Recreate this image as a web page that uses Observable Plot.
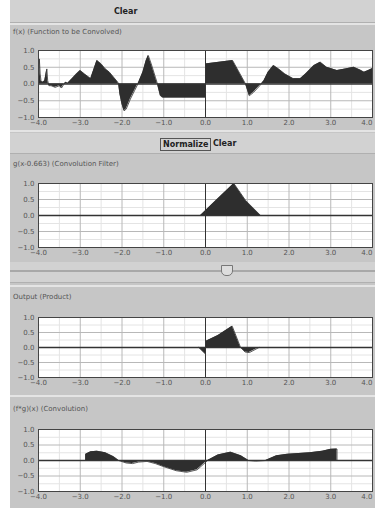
<!DOCTYPE html>
<html><head><meta charset="utf-8">
<script src="https://cdn.jsdelivr.net/npm/d3@7"></script>
<script src="https://cdn.jsdelivr.net/npm/@observablehq/plot@0.6"></script>
<style>
body{margin:0;background:#fff;font-family:"DejaVu Sans",sans-serif;}
#root{position:relative;width:375px;height:512px;overflow:hidden;background:#fff;}
.gray{position:absolute;left:10px;top:0;width:365px;height:508px;background:#c6c6c6;}
.bar{position:absolute;left:10px;width:365px;background:#d2d2d2;border-bottom:1px solid #b0b0b0;}
.btn{position:absolute;font-size:8px;font-weight:bold;color:#222;padding:1px 2px;}
.title{position:absolute;left:13px;font-size:7px;color:#555;white-space:nowrap;}
.plot{position:absolute;left:10px;}
.plot svg{overflow:visible;}
.sep{position:absolute;left:10px;width:365px;height:2px;background:#e4e4e4;}
</style></head>
<body><div id="root">
<div class="gray"></div>
<div class="bar" style="top:0;height:22px;"></div>
<div class="btn" style="left:112px;top:6px;">Clear</div>
<div class="sep" style="top:23px;"></div>
<div class="title" style="top:28px;">f(x) (Function to be Convolved)</div>
<div class="plot" id="p1" style="top:40px;"></div>
<div class="sep" style="top:130px;"></div>
<div class="bar" style="top:133px;height:20px;"></div>
<div class="btn" style="left:160px;top:138px;border:1px solid #555;">Normalize</div>
<div class="btn" style="left:211px;top:138px;">Clear</div>
<div class="title" style="top:160px;">g(x-0.663) (Convolution Filter)</div>
<div class="plot" id="p2" style="top:173px;"></div>
<div class="bar" style="top:262px;height:20px;"></div>
<div style="position:absolute;left:10px;top:270px;width:365px;height:2px;background:#a8a8a8;"></div>
<div style="position:absolute;left:221px;top:265px;width:10px;height:9px;background:#ddd;border:1px solid #777;border-radius:0 0 5px 5px;"></div>
<div class="sep" style="top:285px;"></div>
<div class="title" style="top:293px;">Output (Product)</div>
<div class="plot" id="p3" style="top:307px;"></div>
<div class="sep" style="top:395px;"></div>
<div class="title" style="top:405px;">(f*g)(x) (Convolution)</div>
<div class="plot" id="p4" style="top:419px;"></div>
</div>
<script>
const xTicks = [-4, -3, -2, -1, 0, 1, 2, 3, 4];
const yTicks = [-1, -0.5, 0, 0.5, 1];

const fX = [-4.0, -3.98, -3.96, -3.94, -3.9, -3.85, -3.8, -3.78, -3.75, -3.7, -3.6, -3.5, -3.45, -3.4, -3.35, -3.3,
  -3.2, -3.1, -3.0, -2.9, -2.75, -2.6, -2.5, -2.4, -2.3, -2.2, -2.1, -2.08, -2.05, -2.0, -1.95, -1.9, -1.8, -1.7, -1.6,
  -1.5, -1.42, -1.37, -1.3, -1.2, -1.15, -1.08, -1.03, 0.0, 0.0, 0.65, 0.96, 1.05, 1.15, 1.3, 1.4, 1.5, 1.63, 1.75,
  1.9, 2.1, 2.27, 2.4, 2.6, 2.75, 2.9, 3.15, 3.35, 3.55, 3.7, 3.8, 3.9, 4.0];
const fY = [0.0, 0.75, 0.3, 0.1, 0.05, 0.1, 0.45, 0.1, -0.05, -0.05, -0.1, -0.05, -0.12, -0.02, 0.05, 0.02,
  0.15, 0.28, 0.4, 0.3, 0.16, 0.7, 0.6, 0.45, 0.35, 0.2, 0.05, 0.0, -0.3, -0.6, -0.8, -0.75, -0.45, -0.2, 0.05,
  0.35, 0.7, 0.85, 0.6, 0.2, 0.0, -0.35, -0.4, -0.4, 0.6, 0.7, 0.0, -0.35, -0.25, -0.05, 0.1, 0.35, 0.55, 0.45,
  0.3, 0.16, 0.16, 0.3, 0.55, 0.65, 0.5, 0.4, 0.45, 0.5, 0.42, 0.35, 0.4, 0.46];

const gX = [-0.12, 0.68, 0.96, 1.32];
const gY = [0.0, 1.0, 0.47, 0.0];

const pX = [-0.16, 0.0, 0.0, 0.3, 0.64, 0.84, 0.95, 1.05, 1.28];
const pY = [0.0, -0.22, 0.2, 0.4, 0.71, 0.0, -0.15, -0.17, 0.0];

const cX = [-2.87, -2.87, -2.75, -2.6, -2.4, -2.2, -2.08, -1.9, -1.75, -1.6, -1.4, -1.2, -1.0, -0.7, -0.45, -0.2,
  0.05, 0.3, 0.6, 0.85, 1.03, 1.2, 1.44, 1.7, 1.96, 2.5, 2.8, 3.0, 3.15, 3.15];
const cY = [0.0, 0.2, 0.28, 0.3, 0.25, 0.12, 0.0, -0.08, -0.1, -0.05, -0.03, -0.1, -0.2, -0.33, -0.38, -0.3,
  0.0, 0.18, 0.27, 0.15, 0.0, -0.02, 0.0, 0.15, 0.2, 0.25, 0.3, 0.36, 0.37, 0.0];

const fmt = d3.format(".1f");
const minorX = d3.range(-3.5, 4, 1);
const majorX = [-3, -2, -1, 1, 2, 3];
const gridY = [-0.5, 0.5];
const minorY = [-0.75, -0.25, 0.25, 0.75];

function panel(id, xs, ys, height, mt, mb) {
  const data = xs.map((x, i) => ({x, y: ys[i]}));
  const p = Plot.plot({
    width: 365, height,
    marginLeft: 28, marginRight: 3, marginTop: mt, marginBottom: mb,
    style: {background: "transparent", fontSize: "7px", fontFamily: "DejaVu Sans", color: "#555", overflow: "visible"},
    x: {domain: [-4, 4], label: null},
    y: {domain: [-1, 1], label: null},
    marks: [
      Plot.frame({fill: "white", stroke: "none"}),
      Plot.ruleX(minorX, {stroke: "#e4e4e4"}),
      Plot.ruleY(minorY, {stroke: "#e4e4e4"}),
      Plot.ruleX(majorX, {stroke: "#b8b8b8"}),
      Plot.ruleY(gridY, {stroke: "#b8b8b8"}),
      Plot.areaY(data, {x: "x", y: "y", fill: "#2e2e2e", clip: true}),
      Plot.line(data, {x: "x", y: "y", stroke: "#2e2e2e", strokeWidth: 0.8, clip: true}),
      Plot.ruleX([0], {stroke: "#333", strokeWidth: 1}),
      Plot.ruleY([0], {stroke: "#333", strokeWidth: 1.5}),
      Plot.frame({stroke: "#444"}),
      Plot.axisX(xTicks.slice(0, -1), {tickFormat: fmt, tickSize: 0, tickPadding: 3, fill: "#555"}),
      Plot.axisX(xTicks.slice(-1), {tickFormat: fmt, tickSize: 0, tickPadding: 3, fill: "#555", textAnchor: "end"}),
      Plot.axisY(yTicks, {tickFormat: fmt, tickSize: 0, tickPadding: 4, fill: "#555"})
    ]
  });
  document.getElementById(id).appendChild(p);
}

panel("p1", fX, fY, 88, 10, 11);
panel("p2", gX, gY, 86, 10, 12);
panel("p3", pX, pY, 81, 10, 11);
panel("p4", cX, cY, 84, 10, 12);
</script>
</body></html>
